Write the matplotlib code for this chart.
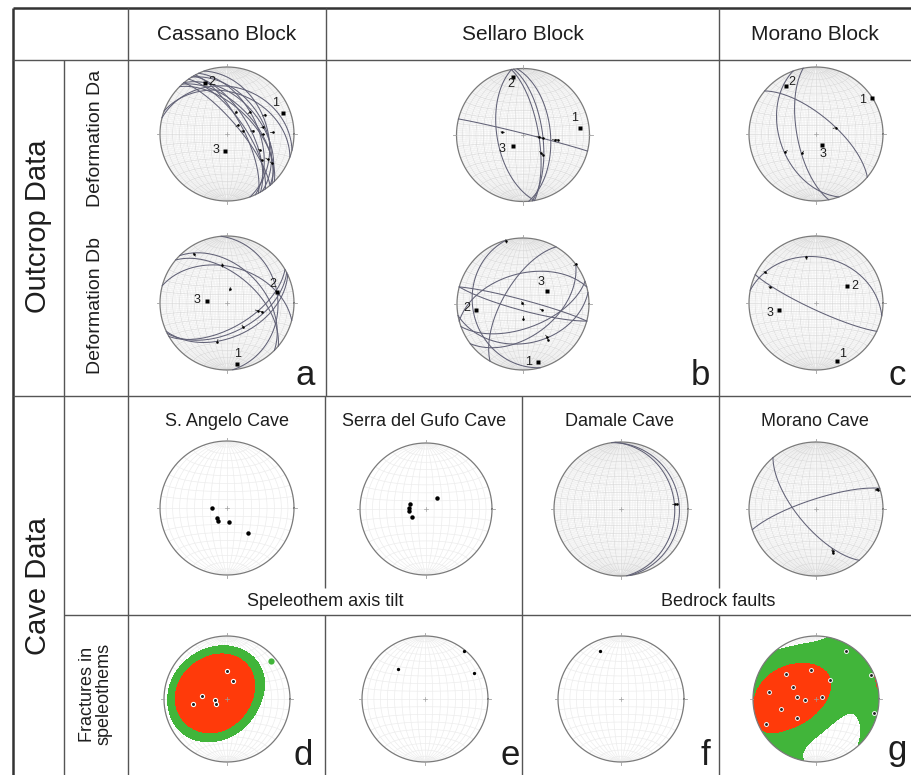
import numpy as np
import matplotlib
matplotlib.use("Agg")
import matplotlib.pyplot as plt
from matplotlib.collections import LineCollection
from matplotlib.patches import Circle

plt.rcParams['font.family'] = ['Liberation Sans', 'DejaVu Sans']

# ---------------- text data ----------------
block_names = ["Cassano Block", "Sellaro Block", "Morano Block"]
group_names = ["Outcrop Data", "Cave Data"]
deformation_rows = ["Deformation Da", "Deformation Db"]
cave_names = ["S. Angelo Cave", "Serra del Gufo Cave", "Damale Cave", "Morano Cave"]
cave_groups = ["Speleothem axis tilt", "Bedrock faults"]
fracture_row = "Fractures in\nspeleothems"
panel_letters = ["a", "b", "c", "d", "e", "f", "g"]
axis_labels = ["1", "2", "3"]

# ---------------- structural data (dip direction / dip, trend / plunge) ----------------
# Cassano block, deformation Da
cas_da_dd = [50, 55, 60, 45, 65, 50, 58, 70, 48, 62, 14, 20]
cas_da_dip = [75, 68, 62, 58, 52, 48, 44, 40, 55, 70, 30, 38]
cas_da_lin_tr = [22, 46, 63, 51, 79, 83, 79, 90, 88, 116, 127, 122, 123]
cas_da_lin_pl = [61, 51, 37, 73, 70, 58, 44, 45, 32, 44, 35, 29, 21]
cas_da_ax_tr = [69, 337, 187]
cas_da_ax_pl = [12, 18, 69]
# Sellaro block, Da
sel_da_dd = [260, 80, 82, 85, 14]
sel_da_dip = [58, 71, 66, 56, 88]
sel_da_lin_tr = [278, 97, 99, 99, 98, 135, 135]
sel_da_lin_pl = [64, 70, 65, 50, 46, 58, 55]
sel_da_ax_tr = [83, 350, 222]
sel_da_ax_pl = [15, 13, 72]
# Morano block, Da
mor_da_dd = [40, 259, 250]
mor_da_dip = [68, 67, 45]
mor_da_lin_tr = [72, 240, 216]
mor_da_lin_pl = [65, 46, 61]
mor_da_ax_tr = [57, 328, 151]
mor_da_ax_pl = [1, 17, 75]
# Cassano block, Db
cas_db_dd = [40, 45, 153, 150, 155, 15, 85]
cas_db_dip = [55, 45, 54, 60, 48, 45, 25]
cas_db_lin_tr = [326, 353, 12, 104, 104, 146, 194]
cas_db_lin_pl = [13, 42, 72, 51, 45, 54, 40]
cas_db_ax_tr = [171, 78, 276]
cas_db_ax_pl = [9, 25, 65]
# Sellaro block, Db
sel_db_dd = [255, 143, 15, 195, 345, 170, 160, 300]
sel_db_dip = [25, 50, 85, 82, 52, 40, 60, 65]
sel_db_lin_tr = [345, 53, 330, 107, 180, 145, 144]
sel_db_lin_pl = [1, 0, 88, 65, 72, 34, 38]
sel_db_ax_tr = [166, 263, 62]
sel_db_ax_pl = [10, 29, 56]
# Morano block, Db
mor_db_dd = [11, 205]
mor_db_dip = [32, 82]
mor_db_lin_tr = [348, 301, 289]
mor_db_lin_pl = [31, 12, 28]
mor_db_ax_tr = [160, 61, 259]
mor_db_ax_pl = [9, 46, 43]
# Speleothem axis tilt
sangelo_tr = [270, 225, 215, 171, 140]
sangelo_pl = [72, 72, 70, 73, 50]
gufo_tr = [287, 273, 263, 240, 45]
gufo_pl = [69, 69, 69, 70, 70]
# Bedrock faults
damale_dd = [85, 82]
damale_dip = [21, 14]
damale_lin_tr = [85, 85]
damale_lin_pl = [20, 17]
moranocave_dd = [230, 342]
moranocave_dip = [68, 78]
moranocave_lin_tr = [72, 73, 158, 159]
moranocave_lin_pl = [4, 4, 33, 31]
# Fractures in speleothems (poles)
frac_d_tr = [0, 18, 277, 265, 246, 262]
frac_d_pl = [54, 65, 57, 75, 75, 44]
frac_d_iso_tr = [49]
frac_d_iso_pl = [9]
frac_e_tr = [318, 39, 62]
frac_e_pl = [36, 3, 13]
frac_f_tr = [336]
frac_f_pl = [18]
frac_g_tr = [278, 298, 276, 265, 72, 36, 310, 351, 32, 66, 243, 104, 225, 254]
frac_g_pl = [26, 56, 65, 76, 82, 59, 38, 51, 11, 5, 12, 6, 54, 42]

# ---------------- figure ----------------
W, H = 912, 775
fig = plt.figure(figsize=(W / 100, H / 100), dpi=100)
ax0 = fig.add_axes([0, 0, 1, 1])
ax0.set_xlim(0, W)
ax0.set_ylim(H, 0)
ax0.axis('off')

LINE = '#555555'
TXT = '#1e1e1e'


def hline(y, x0, x1, lw=1.0, c=LINE):
    ax0.plot([x0, x1], [y, y], color=c, lw=lw, solid_capstyle='butt')


def vline(x, y0, y1, lw=1.0, c=LINE):
    ax0.plot([x, x], [y0, y1], color=c, lw=lw, solid_capstyle='butt')


# table frame
hline(8, 13, W, lw=1.8, c='#333333')
vline(13, 8, H, lw=1.8, c='#333333')
hline(60, 13, W)
hline(396, 13, W)
hline(615, 64, W)
vline(64, 60, H)
vline(128, 8, H)
vline(326, 8, 396)
vline(719, 8, 396)
vline(325, 396, 588)
vline(325, 615, H)
vline(522, 396, H)
vline(719, 396, 588)
vline(719, 615, H)

# texts
for name, x in zip(block_names, [227, 523, 815]):
    ax0.text(x, 34, name, fontsize=15, ha='center', va='center', color=TXT)
for name, y in zip(group_names, [226, 586]):
    ax0.text(38, y, name, fontsize=21, ha='center', va='center', rotation=90, color=TXT)
for name, y in zip(deformation_rows, [138, 305]):
    ax0.text(96, y, name, fontsize=14, ha='center', va='center', rotation=90, color=TXT)
ax0.text(96, 694, fracture_row, fontsize=13, ha='center', va='center', rotation=90,
         color=TXT, linespacing=1.0, multialignment='center')
for name, x in zip(cave_names, [227, 424, 620, 815]):
    ax0.text(x, 421, name, fontsize=13, ha='center', va='center', color=TXT)
for name, x in zip(cave_groups, [325, 718]):
    ax0.text(x, 601, name, fontsize=13, ha='center', va='center', color=TXT)
for lab, (x, y) in zip(panel_letters, [(305, 385), (700, 385), (897, 385),
                                       (303, 765), (510, 765), (705, 765), (897, 760)]):
    ax0.text(x, y, lab, fontsize=25, ha='center', va='baseline', color=TXT)


# ---------------- stereonet helpers ----------------
def vproj(x, y, z):
    f = 1.0 / np.sqrt(1.0 + z)
    return x * f, y * f


def lproj(trend, plunge):
    t = np.radians(np.asarray(trend, float))
    p = np.radians(np.asarray(plunge, float))
    r = np.sqrt(1 - np.sin(p))
    return r * np.sin(t), r * np.cos(t)


def plane_curve(dd, dip, n=240):
    s = np.radians(dd - 90)
    ddr = np.radians(dd)
    d = np.radians(dip)
    a = np.linspace(0, np.pi, n)
    S = np.array([np.sin(s), np.cos(s), 0.0])
    D = np.array([np.sin(ddr) * np.cos(d), np.cos(ddr) * np.cos(d), np.sin(d)])
    v = np.outer(np.cos(a), S) + np.outer(np.sin(a), D)
    return vproj(v[:, 0], v[:, 1], np.clip(v[:, 2], 0, 1))


def make_net(cx, cy, R, grid='dense'):
    pad = 1.12
    ax = fig.add_axes([(cx - pad * R) / W, 1 - (cy + pad * R) / H, 2 * pad * R / W, 2 * pad * R / H])
    ax.set_xlim(-pad, pad)
    ax.set_ylim(-pad, pad)
    ax.set_aspect('equal')
    ax.axis('off')
    ax.patch.set_alpha(0)
    fine, major = [], []
    step = 2 if grid == 'dense' else 10
    for lon_deg in range(-90 + step, 90, step):
        lon = np.radians(lon_deg)
        lim = 90 if lon_deg % 10 == 0 else 80
        la = np.radians(np.linspace(-lim, lim, 121))
        X, Y = vproj(np.cos(la) * np.sin(lon), np.sin(la), np.cos(la) * np.cos(lon))
        (major if lon_deg % 10 == 0 else fine).append(np.column_stack([X, Y]))
    for lat_deg in range(-90 + step, 90, step):
        la = np.radians(lat_deg)
        lo = np.radians(np.linspace(-90, 90, 121))
        X, Y = vproj(np.cos(la) * np.sin(lo), np.full_like(lo, np.sin(la)), np.cos(la) * np.cos(lo))
        (major if lat_deg % 10 == 0 else fine).append(np.column_stack([X, Y]))
    if grid == 'dense':
        ax.add_collection(LineCollection(fine, colors='#ebebeb', linewidths=0.3, zorder=1))
        ax.add_collection(LineCollection(major, colors='#d6d6d6', linewidths=0.4, zorder=1))
    else:
        ax.add_collection(LineCollection(major, colors='#ededed', linewidths=0.5, zorder=1))
    th = np.linspace(0, 2 * np.pi, 400)
    ax.plot(np.cos(th), np.sin(th), color='#7a7a7a', lw=0.9, zorder=4)
    for ang in [0, 90, 180, 270]:
        a = np.radians(ang)
        ax.plot([np.sin(a), 1.05 * np.sin(a)], [np.cos(a), 1.05 * np.cos(a)], color='#a0a0a0', lw=0.6, zorder=4)
    ax.plot([-0.03, 0.03], [0, 0], color='#a0a0a0', lw=0.5, zorder=4)
    ax.plot([0, 0], [-0.03, 0.03], color='#a0a0a0', lw=0.5, zorder=4)
    return ax


def draw_planes(ax, dds, dips, color='#616176', lw=0.75):
    for dd, dp in zip(dds, dips):
        X, Y = plane_curve(dd, dp)
        ax.plot(X, Y, color=color, lw=lw, zorder=5)


def draw_lineations(ax, tr, pl):
    X, Y = lproj(tr, pl)
    for x, y in zip(X, Y):
        r = np.hypot(x, y)
        ux, uy = (x / r, y / r) if r > 1e-6 else (1.0, 0.0)
        ax.plot([x - 0.035 * ux, x + 0.015 * ux], [y - 0.035 * uy, y + 0.015 * uy],
                color='#333333', lw=0.6, zorder=6)
    ax.plot(X, Y, 'o', ms=1.8, color='black', mec='none', zorder=7)


def draw_axes(ax, tr, pl, offsets):
    X, Y = lproj(tr, pl)
    ax.plot(X, Y, 's', ms=2.8, color='black', mec='none', zorder=7)
    for x, y, lab, (ox, oy) in zip(X, Y, axis_labels, offsets):
        ax.annotate(lab, (x, y), xytext=(ox * 0.72, oy * 0.72), textcoords='offset points',
                    fontsize=9, ha='center', va='center', color=TXT, zorder=8)


def draw_density(ax, tr, pl, kappa, levels, colors, n=34):
    xs = np.linspace(-1.04, 1.04, n)
    X, Y = np.meshgrid(xs, xs)
    r2 = X ** 2 + Y ** 2
    z = np.clip(1 - r2, 0, 1)
    h = np.sqrt(np.clip(1 - z ** 2, 0, 1))
    rr = np.sqrt(r2)
    rs = np.where(rr == 0, 1, rr)
    vx, vy = h * X / rs, h * Y / rs
    t = np.radians(np.asarray(tr, float))
    p = np.radians(np.asarray(pl, float))
    dens = np.zeros_like(X)
    for a, b, c in zip(np.cos(p) * np.sin(t), np.cos(p) * np.cos(t), np.sin(p)):
        dens += np.exp(kappa * (np.abs(vx * a + vy * b + z * c) - 1))
    dens /= dens.max()
    cs = ax.contourf(X, Y, dens, levels=levels, colors=colors, zorder=2)
    cs.set_clip_path(Circle((0, 0), 1.0, transform=ax.transData))


# ---------------- outcrop nets ----------------
n1 = make_net(227, 134, 67)
draw_planes(n1, cas_da_dd, cas_da_dip)
draw_lineations(n1, cas_da_lin_tr, cas_da_lin_pl)
draw_axes(n1, cas_da_ax_tr, cas_da_ax_pl, [(-7, 10), (7, 1), (-9, 1)])

n2 = make_net(523, 135, 66.5)
draw_planes(n2, sel_da_dd, sel_da_dip)
draw_lineations(n2, sel_da_lin_tr, sel_da_lin_pl)
draw_axes(n2, sel_da_ax_tr, sel_da_ax_pl, [(-5, 10), (-2, -7), (-11, -3)])

n3 = make_net(816, 134, 67)
draw_planes(n3, mor_da_dd, mor_da_dip)
draw_lineations(n3, mor_da_lin_tr, mor_da_lin_pl)
draw_axes(n3, mor_da_ax_tr, mor_da_ax_pl, [(-9, -2), (6, 4), (1, -9)])

n4 = make_net(227, 303, 67)
draw_planes(n4, cas_db_dd, cas_db_dip)
draw_lineations(n4, cas_db_lin_tr, cas_db_lin_pl)
draw_axes(n4, cas_db_ax_tr, cas_db_ax_pl, [(1, 10), (-4, 8), (-10, 1)])

n5 = make_net(523, 304, 66)
draw_planes(n5, sel_db_dd, sel_db_dip)
draw_lineations(n5, sel_db_lin_tr, sel_db_lin_pl)
draw_axes(n5, sel_db_ax_tr, sel_db_ax_pl, [(-9, 0), (-9, 2), (-6, 9)])

n6 = make_net(816, 303, 67)
draw_planes(n6, mor_db_dd, mor_db_dip)
draw_lineations(n6, mor_db_lin_tr, mor_db_lin_pl)
draw_axes(n6, mor_db_ax_tr, mor_db_ax_pl, [(6, 7), (8, 0), (-9, -3)])

# ---------------- cave nets ----------------
c1 = make_net(227, 508, 67, grid='faint')
X, Y = lproj(sangelo_tr, sangelo_pl)
c1.plot(X, Y, 'o', ms=3.2, color='black', mec='none', zorder=7)

c2 = make_net(426, 509, 66, grid='faint')
X, Y = lproj(gufo_tr, gufo_pl)
c2.plot(X, Y, 'o', ms=3.2, color='black', mec='none', zorder=7)

c3 = make_net(621, 509, 67)
draw_planes(c3, damale_dd, damale_dip)
draw_lineations(c3, damale_lin_tr, damale_lin_pl)

c4 = make_net(816, 509, 67)
draw_planes(c4, moranocave_dd, moranocave_dip)
draw_lineations(c4, moranocave_lin_tr, moranocave_lin_pl)

# ---------------- fractures in speleothems ----------------
GREEN, RED = '#41b53a', '#ff3a0a'
f1 = make_net(227, 699, 63, grid='faint')
draw_density(f1, frac_d_tr, frac_d_pl, 3.0, [0.27, 0.42, 1.01], [GREEN, RED])
X, Y = lproj(frac_d_iso_tr, frac_d_iso_pl)
f1.plot(X, Y, 'o', ms=4.5, color=GREEN, mec='none', zorder=6)
X, Y = lproj(frac_d_tr, frac_d_pl)
f1.plot(X, Y, 'o', ms=3.0, color='#222222', mec='white', mew=0.8, zorder=7)

f2 = make_net(425, 699, 63, grid='faint')
X, Y = lproj(frac_e_tr, frac_e_pl)
f2.plot(X, Y, 'o', ms=2.4, color='black', mec='none', zorder=7)

f3 = make_net(621, 699, 63, grid='faint')
X, Y = lproj(frac_f_tr, frac_f_pl)
f3.plot(X, Y, 'o', ms=2.4, color='black', mec='none', zorder=7)

f4 = make_net(816, 699, 63, grid='faint')
draw_density(f4, frac_g_tr, frac_g_pl, 4.0, [0.28, 0.62, 1.01], [GREEN, RED])
X, Y = lproj(frac_g_tr, frac_g_pl)
f4.plot(X, Y, 'o', ms=2.8, color='#222222', mec='white', mew=0.7, zorder=7)

fig.savefig('out.png', dpi=100)
